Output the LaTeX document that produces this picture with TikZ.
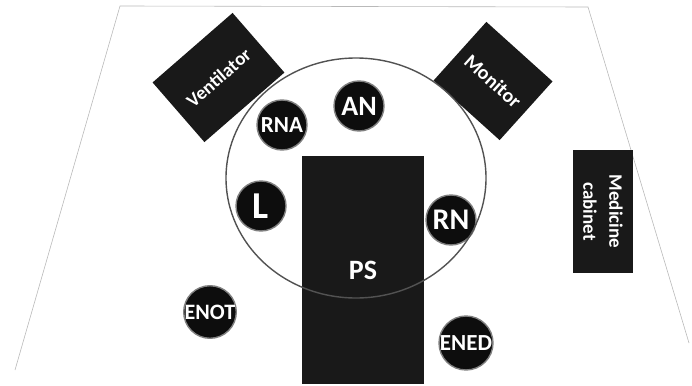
\documentclass[tikz,border=0pt]{standalone}
\usepackage{fontspec}
\setmainfont{Carlito}
\usetikzlibrary{shapes.geometric}
\begin{document}
\begin{tikzpicture}[x=1pt,y=-1pt,
  staff/.style={circle, fill=black!95, draw=black!50, line width=1.4pt,
    minimum size=50pt, inner sep=0pt, text=white},
  equip/.style={fill=black!90, text=white, inner sep=0pt, align=center},
  floor/.style={draw=gray!55, line width=0.6pt},
  zone/.style={draw=black!68, line width=1.4pt},
]
\useasboundingbox (0,0) rectangle (692,385);

% room outline
\coordinate (fl) at (15,370);
\coordinate (tl) at (120,6);
\coordinate (tr) at (588,7);
\coordinate (fr) at (689,343);
\draw[floor] (fl) -- (tl) -- (tr) -- (fr);

% equipment
\node[equip, minimum width=106pt, minimum height=79pt, rotate=41,
  font=\bfseries\fontsize{19}{19}\selectfont] (vent) at (218.5,77.5) {Ventilator};
\node[equip, minimum width=89pt, minimum height=79pt, rotate=-42,
  font=\bfseries\fontsize{20}{20}\selectfont] (mon) at (493,81) {Monitor};
\node[equip, minimum width=123pt, minimum height=60pt, rotate=-90,
  font=\bfseries\fontsize{19}{26}\selectfont] (cab) at (603,211.5) {Medicine\\cabinet};
\node[equip, minimum width=122pt, minimum height=228pt,
  font=\bfseries\fontsize{28}{28}\selectfont] (ps) at (363,270) {PS};

% staff positions
\node[staff, font=\bfseries\fontsize{23}{23}\selectfont] (rna) at (282,125) {RNA};
\node[staff, font=\bfseries\fontsize{28}{28}\selectfont] (an) at (359,106) {AN};
\node[staff, font=\bfseries\fontsize{38}{38}\selectfont] (l) at (261,206) {L};
\node[staff, font=\bfseries\fontsize{30}{30}\selectfont] (rn) at (451,220) {RN};
\node[staff, font=\bfseries\fontsize{22}{22}\selectfont] (enot) at (210,312) {ENOT};
\node[staff, font=\bfseries\fontsize{23}{23}\selectfont] (ened) at (466,343) {ENED};

% sterile zone around the table
\node[zone, ellipse, minimum width=260pt, minimum height=240pt, inner sep=0pt] (zone) at (356,178) {};
\end{tikzpicture}
\end{document}
